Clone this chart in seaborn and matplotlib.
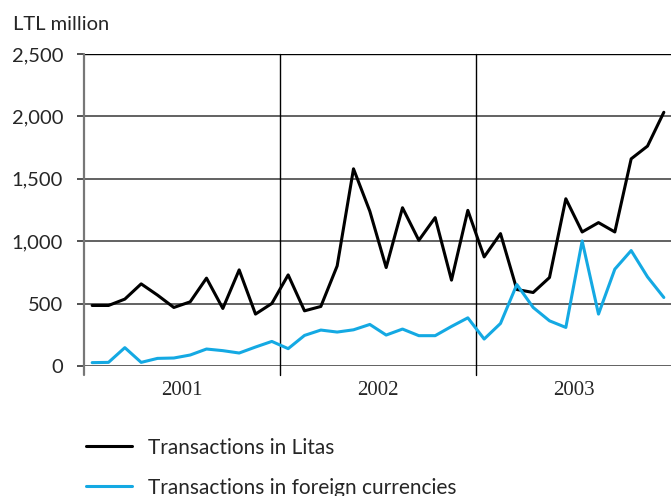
import numpy as np
import pandas as pd
import matplotlib.pyplot as plt
import seaborn as sns

# monthly values, Jan 2001 - Dec 2003 (LTL million)
years = ['2001', '2002', '2003']
litas = [485, 485, 536, 658, 568, 469, 514, 704, 461, 770, 416, 501,
         730, 442, 477, 802, 1580, 1240, 789, 1268, 1007, 1189, 688, 1247,
         874, 1061, 613, 589, 709, 1340, 1074, 1149, 1074, 1660, 1762, 2033]
foreign = [27, 29, 147, 29, 61, 64, 88, 136, 123, 104, 152, 197,
           139, 245, 288, 272, 290, 333, 248, 296, 243, 243, 317, 386,
           216, 341, 653, 469, 362, 309, 1002, 416, 776, 925, 714, 549]
labels = ['Transactions in Litas', 'Transactions in foreign currencies']
colors = ['#000000', '#14a9e3']
yticks = [0, 500, 1000, 1500, 2000, 2500]

df = pd.DataFrame({
    'month': list(range(len(litas))) * 2,
    'value': litas + foreign,
    'series': [labels[0]] * len(litas) + [labels[1]] * len(foreign),
})

sns.set_style('white')
plt.rcParams['font.family'] = ['Lato', 'DejaVu Sans']

fig = plt.figure(figsize=(6.71, 4.96), dpi=100)
ax = fig.add_axes([84 / 671, 1 - 366 / 496, 588 / 671, 312 / 496])

sns.lineplot(data=df, x='month', y='value', hue='series', palette=colors,
             linewidth=2.2, ax=ax, legend=False)

ax.set_xlim(-0.5, 35.5)
ax.set_ylim(0, 2500)
for s in ax.spines.values():
    s.set_visible(False)

# horizontal grid
for v in yticks:
    c = '#000000' if v == 2500 else '#555555'
    ax.axhline(v, color=c, lw=1.3 if v < 2500 else 1.0, zorder=1)

# vertical year dividers (plus left edge), extending below the axis
ax.axvline(-0.5, ymin=-0.03, ymax=1, color='#777777', lw=1.6, clip_on=False, zorder=1)
for xv in [11.5, 23.5]:
    ax.axvline(xv, ymin=-0.03, ymax=1, color='#000000', lw=1.0, clip_on=False, zorder=1)

ax.set_yticks(yticks)
ax.set_yticklabels([f'{v:,}' for v in yticks])
ax.tick_params(axis='y', length=5, width=1.2, color='#333333', pad=10,
               labelsize=14.5, left=True)
ax.set_xticks([5.5, 17.5, 29.5])
ax.set_xticklabels(years, family='Liberation Serif', fontsize=15)
ax.tick_params(axis='x', length=0, pad=11)
ax.set_xlabel('')
ax.set_ylabel('')

fig.text(13 / 671, 1 - 25 / 496, 'LTL million', fontsize=14.5, va='center', ha='left')

handles = [plt.Line2D([], [], color=c, lw=2.2) for c in colors]
fig.legend(handles, labels, loc='upper left', bbox_to_anchor=(67 / 671, 1 - 419 / 496),
           frameon=False, fontsize=15, handlelength=2.2, handletextpad=0.8,
           labelspacing=0.95)

fig.savefig('out.png', dpi=100)
